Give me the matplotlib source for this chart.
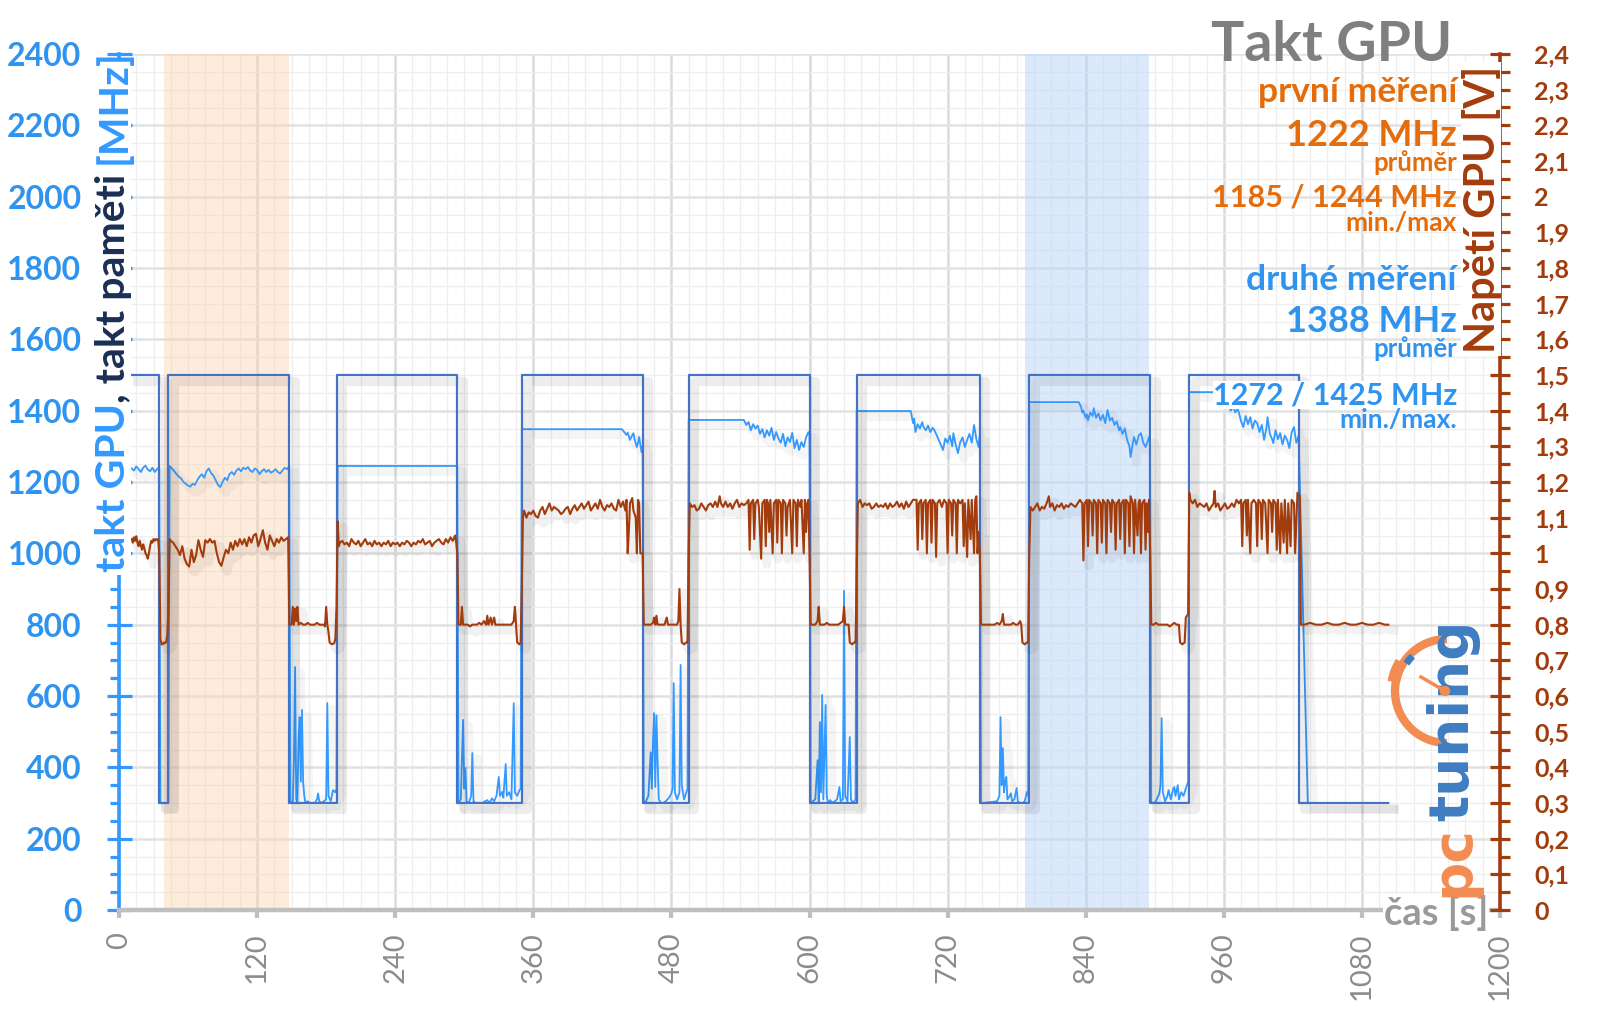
import matplotlib
matplotlib.use('Agg')
import matplotlib.pyplot as plt
import matplotlib.patheffects as pe
from matplotlib.patches import Arc, Ellipse, Rectangle
from matplotlib.lines import Line2D
from matplotlib.ticker import FixedLocator, MultipleLocator, FuncFormatter

plt.rcParams['font.family'] = ['Lato', 'DejaVu Sans']

W, H = 1600, 1009

# ---------------- data (time [s], value) ----------------
X_TICKS = [0, 120, 240, 360, 480, 600, 720, 840, 960, 1080, 1200]
Y_TICKS_MHZ = [0, 200, 400, 600, 800, 1000, 1200, 1400, 1600, 1800, 2000, 2200, 2400]
Y_TICKS_V = [0, 0.1, 0.2, 0.3, 0.4, 0.5, 0.6, 0.7, 0.8, 0.9, 1.0, 1.1, 1.2,
             1.3, 1.4, 1.5, 1.6, 1.7, 1.8, 1.9, 2.0, 2.1, 2.2, 2.3, 2.4]

ORANGE_SPAN = (39, 148)
BLUE_SPAN = (787, 895)

MEM_CLOCK = [(11, 1500), (35, 1500), (35, 300), (43, 300), (43, 1500), (148, 1500), (148, 300),
             (189, 300), (189, 1500), (294, 1500), (294, 300), (350, 300), (350, 1500),
             (455, 1500), (455, 300), (495, 300), (495, 1500), (600, 1500), (600, 300),
             (641, 300), (641, 1500), (748, 1500), (748, 300), (791, 300), (791, 1500),
             (896, 1500), (896, 300), (930, 300), (930, 1500), (1025, 1500), (1025, 300),
             (1103, 300)]

GPU_CLOCK = [
    (11, 1238), (13, 1232), (15, 1244), (17, 1236), (19, 1228), (21, 1240), (23, 1246), (25, 1235),
    (27, 1230), (29, 1240), (31, 1228), (33, 1236), (35, 1242), (36, 300), (43, 300),
    (44, 1245), (46, 1238), (48, 1230), (50, 1222), (52, 1215), (54, 1210), (56, 1200), (58, 1195),
    (60, 1190), (62, 1187), (64, 1195), (66, 1192), (68, 1205), (70, 1215), (72, 1222), (74, 1212),
    (76, 1230), (78, 1238), (80, 1225), (82, 1218), (84, 1205), (86, 1192), (88, 1186), (90, 1200),
    (92, 1212), (94, 1205), (96, 1222), (98, 1228), (100, 1220), (102, 1232), (104, 1238),
    (106, 1230), (108, 1240), (110, 1236), (112, 1242), (114, 1232), (116, 1228), (118, 1238),
    (120, 1234), (122, 1222), (124, 1230), (126, 1236), (128, 1228), (130, 1234), (132, 1226),
    (134, 1230), (136, 1236), (138, 1228), (140, 1224), (142, 1232), (144, 1240), (146, 1236),
    (148, 1244), (149, 300),
    (151, 305), (152, 420), (153, 681), (154, 310), (155, 300), (156, 480), (157, 541), (158, 360),
    (159, 561), (160, 359), (161, 320), (162, 300), (164, 305), (166, 300), (168, 300), (170, 300),
    (172, 310), (173, 327), (174, 305), (176, 300), (178, 305), (180, 310), (181, 580), (182, 320),
    (184, 305), (186, 336), (188, 330), (189, 340),
    (190, 1245), (294, 1245), (295, 300),
    (297, 310), (299, 533), (300, 340), (301, 398), (302, 305), (304, 300), (306, 320), (307, 440),
    (308, 305), (310, 300), (312, 300), (314, 300), (316, 300), (318, 305), (320, 308), (322, 300),
    (324, 313), (326, 305), (328, 320), (330, 373), (331, 320), (333, 331), (334, 315), (336, 409),
    (337, 320), (339, 330), (341, 310), (343, 580), (344, 330), (346, 320), (348, 336), (349, 340),
    (350, 1348), (437, 1348), (439, 1340), (441, 1332), (442, 1338), (444, 1318), (445, 1325),
    (447, 1337), (448, 1320), (450, 1298), (451, 1310), (452, 1326), (453, 1305), (454, 1284),
    (455, 1300), (456, 300),
    (458, 305), (460, 320), (461, 380), (462, 442), (463, 340), (464, 470), (465, 552), (466, 345),
    (467, 546), (468, 420), (469, 310), (471, 300), (473, 300), (475, 305), (476, 308), (478, 315),
    (480, 327), (481, 340), (482, 636), (483, 330), (485, 310), (487, 330), (488, 687), (489, 350),
    (491, 310), (493, 330), (494, 340),
    (495, 1374), (543, 1374), (545, 1360), (547, 1368), (549, 1345), (551, 1362), (553, 1350),
    (555, 1358), (557, 1335), (559, 1348), (561, 1325), (563, 1345), (565, 1330), (567, 1352),
    (569, 1318), (571, 1340), (573, 1322), (575, 1310), (577, 1335), (579, 1300), (581, 1325),
    (583, 1312), (585, 1338), (587, 1295), (589, 1318), (591, 1290), (593, 1312), (595, 1298),
    (597, 1325), (599, 1340), (600, 1330), (601, 300),
    (603, 305), (605, 310), (607, 420), (608, 300), (609, 527), (610, 330), (611, 603), (612, 310),
    (614, 575), (615, 320), (616, 300), (618, 308), (620, 300), (622, 305), (624, 310), (626, 345),
    (627, 305), (629, 310), (630, 895), (631, 320), (633, 305), (635, 485), (636, 310), (638, 300),
    (640, 310),
    (641, 1399), (688, 1399), (690, 1365), (691, 1378), (692, 1340), (694, 1362), (696, 1350),
    (698, 1368), (699, 1355), (701, 1345), (703, 1358), (705, 1340), (707, 1352), (708, 1348),
    (710, 1335), (712, 1320), (714, 1305), (716, 1290), (718, 1322), (720, 1310), (722, 1330),
    (724, 1300), (725, 1337), (727, 1305), (729, 1281), (731, 1312), (733, 1325), (735, 1298),
    (737, 1318), (739, 1335), (741, 1310), (743, 1360), (745, 1320), (747, 1298), (748, 1330),
    (749, 300),
    (751, 300), (763, 305), (765, 320), (766, 541), (767, 350), (768, 454), (769, 330), (770, 360),
    (771, 373), (772, 310), (774, 320), (775, 327), (776, 305), (778, 310), (780, 342), (781, 305),
    (783, 300), (785, 300), (787, 305), (789, 331), (790, 320),
    (791, 1424), (834, 1424), (836, 1410), (837, 1395), (838, 1400), (840, 1380), (841, 1390),
    (842, 1373), (844, 1395), (846, 1385), (847, 1407), (849, 1380), (851, 1392), (853, 1373),
    (855, 1388), (857, 1365), (859, 1402), (861, 1372), (863, 1380), (865, 1360), (867, 1370),
    (869, 1345), (870, 1354), (872, 1335), (874, 1350), (876, 1318), (878, 1300), (879, 1270),
    (881, 1310), (882, 1326), (884, 1305), (886, 1330), (888, 1337), (890, 1310), (892, 1298),
    (894, 1315), (895, 1326), (896, 1310), (897, 300),
    (899, 300), (901, 305), (903, 320), (904, 327), (905, 350), (906, 538), (907, 330), (909, 305),
    (911, 320), (912, 336), (914, 310), (916, 340), (917, 345), (918, 320), (920, 350), (921, 310),
    (923, 330), (925, 320), (927, 340), (929, 360),
    (930, 1452), (958, 1452), (960, 1430), (962, 1410), (964, 1420), (966, 1400), (968, 1412),
    (970, 1395), (972, 1405), (973, 1396), (975, 1370), (977, 1354), (979, 1385), (981, 1362),
    (983, 1382), (985, 1350), (987, 1372), (989, 1365), (991, 1340), (993, 1360), (995, 1318),
    (997, 1350), (998, 1382), (1000, 1335), (1002, 1320), (1003, 1309), (1005, 1345), (1007, 1320),
    (1009, 1337), (1011, 1305), (1013, 1330), (1015, 1318), (1017, 1295), (1019, 1340),
    (1021, 1354), (1023, 1310), (1025, 1330), (1033, 300), (1103, 300)]

GPU_VOLT = [
    (11, 1.04), (12, 1.03), (13, 1.045), (14, 1.035), (15, 1.048), (16, 1.03), (17, 1.02), (18, 1.035),
    (19, 1.022), (20, 1.01), (21, 1.025), (22, 1.015), (23, 1.0), (24, 0.995), (25, 0.985), (26, 1.0),
    (27, 1.02), (28, 1.035), (29, 1.03), (30, 1.04), (31, 1.035), (32, 1.04), (33, 1.038), (34, 1.04),
    (35, 1.0), (36, 0.76), (37, 0.745), (38, 0.745), (39, 0.75), (40, 0.748), (41, 0.752), (42, 0.77),
    (43, 0.85), (44, 1.04),
    (45, 1.035), (47, 1.03), (49, 1.02), (51, 1.01), (53, 0.995), (55, 1.02), (57, 0.985), (59, 0.97),
    (61, 0.963), (63, 1.01), (65, 0.975), (67, 0.995), (69, 1.037), (71, 1.01), (73, 0.99), (75, 1.037),
    (77, 1.03), (79, 1.04), (81, 1.03), (83, 1.035), (85, 1.0), (87, 0.975), (89, 0.965), (91, 0.99),
    (93, 1.01), (95, 1.0), (97, 1.03), (99, 1.01), (101, 1.035), (103, 1.02), (105, 1.04), (107, 1.025),
    (109, 1.04), (111, 1.02), (113, 1.045), (115, 1.03), (117, 1.05), (119, 1.055), (121, 1.02),
    (123, 1.04), (125, 1.065), (127, 1.03), (129, 1.01), (131, 1.05), (133, 1.035), (135, 1.02),
    (137, 1.04), (139, 1.03), (141, 1.045), (143, 1.035), (145, 1.04), (147, 1.045),
    (148, 0.80), (150, 0.80), (151, 0.85), (152, 0.80), (153, 0.845), (154, 0.81), (155, 0.85),
    (156, 0.80), (158, 0.805), (160, 0.80), (162, 0.80), (164, 0.805), (166, 0.80), (168, 0.80),
    (170, 0.80), (172, 0.805), (174, 0.80), (176, 0.80), (178, 0.80), (179, 0.795), (180, 0.85),
    (181, 0.80), (182, 0.78), (183, 0.75), (185, 0.745), (187, 0.748), (188, 0.76), (189, 0.85),
    (190, 1.09), (191, 1.02),
    (192, 1.03), (194, 1.035), (196, 1.025), (198, 1.03), (200, 1.02), (202, 1.04), (204, 1.03),
    (206, 1.025), (208, 1.035), (210, 1.02), (212, 1.03), (214, 1.04), (216, 1.025), (218, 1.03),
    (220, 1.02), (222, 1.035), (224, 1.025), (226, 1.03), (228, 1.02), (230, 1.03), (232, 1.025),
    (234, 1.035), (236, 1.02), (238, 1.03), (240, 1.025), (242, 1.03), (244, 1.02), (246, 1.03),
    (248, 1.025), (250, 1.035), (252, 1.03), (254, 1.02), (256, 1.03), (258, 1.025), (260, 1.035),
    (262, 1.03), (264, 1.04), (266, 1.025), (268, 1.03), (270, 1.035), (272, 1.02), (274, 1.03),
    (276, 1.035), (278, 1.04), (280, 1.03), (282, 1.025), (284, 1.04), (286, 1.03), (288, 1.045),
    (290, 1.035), (292, 1.05), (293, 1.03), (294, 1.0),
    (295, 0.80), (297, 0.80), (298, 0.85), (299, 0.80), (301, 0.80), (303, 0.80), (305, 0.795),
    (307, 0.80), (309, 0.80), (311, 0.80), (313, 0.805), (315, 0.80), (317, 0.81), (319, 0.80),
    (320, 0.825), (321, 0.80), (323, 0.82), (324, 0.80), (326, 0.82), (327, 0.80), (329, 0.80),
    (331, 0.80), (333, 0.80), (335, 0.80), (337, 0.80), (339, 0.80), (341, 0.80), (343, 0.81),
    (344, 0.85), (345, 0.80), (346, 0.75), (348, 0.745), (349, 0.75), (350, 0.90), (351, 1.10),
    (352, 1.12), (354, 1.10), (356, 1.115), (358, 1.11), (360, 1.12), (362, 1.105), (364, 1.10),
    (366, 1.12), (368, 1.13), (370, 1.11), (372, 1.125), (374, 1.14), (376, 1.12), (378, 1.13),
    (380, 1.125), (382, 1.12), (384, 1.11), (386, 1.115), (388, 1.125), (390, 1.13), (392, 1.11),
    (394, 1.125), (396, 1.135), (398, 1.12), (400, 1.13), (402, 1.14), (404, 1.125), (406, 1.135),
    (408, 1.145), (410, 1.12), (412, 1.13), (414, 1.14), (416, 1.125), (418, 1.15), (420, 1.13),
    (422, 1.12), (424, 1.135), (426, 1.13), (428, 1.14), (430, 1.125), (432, 1.12), (434, 1.15),
    (436, 1.13), (438, 1.145), (440, 1.12), (441, 1.15), (442, 1.0), (443, 1.06), (444, 1.14),
    (446, 1.155), (447, 1.12), (449, 1.10), (450, 1.0), (451, 1.15), (452, 1.14), (453, 1.0),
    (455, 1.0),
    (456, 0.80), (458, 0.80), (460, 0.80), (462, 0.80), (464, 0.805), (465, 0.82), (466, 0.80),
    (467, 0.825), (468, 0.80), (470, 0.80), (472, 0.80), (474, 0.80), (476, 0.82), (477, 0.80),
    (479, 0.80), (481, 0.80), (483, 0.80), (485, 0.80), (486, 0.81), (487, 0.90), (488, 0.80),
    (489, 0.75), (491, 0.745), (493, 0.75), (494, 0.75), (495, 1.0),
    (496, 1.14), (498, 1.13), (500, 1.135), (502, 1.12), (504, 1.125), (506, 1.14), (508, 1.13),
    (510, 1.12), (512, 1.135), (514, 1.14), (516, 1.13), (518, 1.145), (520, 1.13), (522, 1.16),
    (523, 1.14), (525, 1.13), (527, 1.145), (529, 1.13), (531, 1.14), (533, 1.125), (535, 1.14),
    (537, 1.15), (539, 1.13), (541, 1.14), (543, 1.135), (545, 1.14),
    (547, 1.15), (548, 1.01), (549, 1.14), (551, 1.15), (552, 1.04), (553, 1.14), (555, 1.15),
    (556, 1.13), (558, 0.985), (559, 1.14), (561, 1.15), (562, 1.02), (563, 1.15), (564, 1.14),
    (565, 1.06), (566, 1.15), (568, 1.0), (569, 1.14), (571, 1.15), (572, 1.03), (573, 1.15),
    (575, 1.14), (576, 1.0), (577, 1.15), (579, 1.14), (580, 1.05), (581, 1.13), (583, 1.15),
    (585, 1.0), (586, 1.15), (588, 1.14), (589, 1.02), (590, 1.15), (592, 1.13), (593, 1.15),
    (595, 1.0), (596, 1.15), (597, 1.06), (598, 1.14), (599, 1.15), (600, 1.0),
    (601, 0.80), (603, 0.80), (605, 0.80), (607, 0.81), (608, 0.85), (609, 0.80), (611, 0.80),
    (613, 0.80), (615, 0.805), (617, 0.80), (619, 0.80), (621, 0.80), (623, 0.80), (625, 0.80),
    (627, 0.805), (629, 0.81), (630, 0.85), (631, 0.80), (633, 0.80), (634, 0.80), (635, 0.75),
    (637, 0.745), (639, 0.75), (640, 0.75), (641, 0.95),
    (642, 1.14), (644, 1.15), (646, 1.13), (648, 1.14), (650, 1.135), (652, 1.14), (654, 1.125),
    (656, 1.13), (658, 1.14), (660, 1.13), (662, 1.135), (664, 1.13), (666, 1.14), (668, 1.125),
    (670, 1.14), (672, 1.13), (674, 1.135), (676, 1.145), (678, 1.13), (680, 1.14), (682, 1.125),
    (684, 1.145), (686, 1.13), (688, 1.14), (690, 1.15),
    (693, 1.15), (694, 1.01), (695, 1.14), (697, 1.15), (698, 1.04), (699, 1.14), (701, 1.15),
    (702, 1.0), (703, 1.14), (705, 1.15), (706, 1.03), (707, 1.15), (709, 1.14), (710, 0.99),
    (711, 1.14), (713, 1.15), (715, 1.13), (717, 1.15), (719, 1.14), (720, 1.0), (721, 1.15),
    (723, 1.14), (724, 1.05), (725, 1.15), (727, 1.14), (728, 1.0), (729, 1.15),
    (731, 1.14), (733, 1.15), (734, 1.02), (735, 1.14), (737, 0.99), (738, 1.15), (740, 1.04),
    (741, 1.15), (743, 1.0), (744, 1.15), (745, 1.16), (746, 1.0), (747, 1.06), (748, 1.0),
    (749, 0.80), (751, 0.80), (753, 0.80), (755, 0.80), (757, 0.80), (759, 0.80), (761, 0.80),
    (763, 0.805), (765, 0.80), (767, 0.81), (768, 0.83), (769, 0.80), (771, 0.80), (773, 0.80),
    (775, 0.80), (777, 0.805), (779, 0.80), (781, 0.80), (783, 0.81), (784, 0.80), (785, 0.75),
    (787, 0.745), (789, 0.75), (790, 0.75), (791, 1.0),
    (792, 1.13), (794, 1.12), (796, 1.13), (798, 1.14), (800, 1.12), (802, 1.13), (804, 1.125),
    (806, 1.14), (808, 1.16), (809, 1.13), (811, 1.14), (813, 1.12), (815, 1.135), (817, 1.13),
    (819, 1.14), (821, 1.125), (823, 1.135), (825, 1.13), (827, 1.14), (829, 1.135), (831, 1.13),
    (833, 1.14), (835, 1.15), (837, 1.14), (838, 0.98), (839, 1.14), (841, 1.15), (842, 1.02),
    (843, 1.15), (845, 1.14), (846, 1.05), (847, 1.15), (849, 1.14), (850, 1.0), (851, 1.15),
    (853, 1.14), (854, 1.03), (855, 1.15), (857, 1.14), (858, 1.0), (859, 1.15),
    (861, 1.14), (862, 1.06), (863, 1.15), (865, 1.14), (866, 1.01), (867, 1.14), (869, 1.15),
    (870, 1.04), (871, 1.14), (873, 1.15), (874, 1.0), (875, 1.15), (877, 1.14), (878, 1.02),
    (879, 1.16), (881, 1.14), (882, 1.0), (883, 1.15), (885, 1.05), (886, 1.14), (887, 1.15),
    (888, 1.0), (889, 1.14), (891, 1.15), (892, 1.01), (893, 1.14), (894, 1.06), (895, 1.15),
    (896, 1.0),
    (897, 0.80), (899, 0.80), (901, 0.805), (903, 0.80), (905, 0.80), (907, 0.80), (909, 0.80),
    (911, 0.80), (913, 0.795), (915, 0.80), (917, 0.805), (919, 0.80), (921, 0.80), (922, 0.75),
    (924, 0.745), (926, 0.75), (927, 0.82), (929, 0.83), (930, 1.17),
    (931, 1.15), (933, 1.14), (935, 1.15), (937, 1.13), (939, 1.14), (941, 1.135), (943, 1.13),
    (945, 1.14), (947, 1.12), (949, 1.13), (951, 1.14), (952, 1.175), (953, 1.13), (955, 1.14),
    (957, 1.12), (959, 1.13), (961, 1.14), (963, 1.125), (965, 1.13), (967, 1.14), (969, 1.13),
    (971, 1.15), (973, 1.14), (975, 1.15), (976, 1.02), (977, 1.14), (979, 1.15), (980, 1.05),
    (981, 1.15), (983, 1.0), (984, 1.14), (986, 1.15), (988, 1.14), (989, 1.02), (990, 1.15),
    (992, 1.14), (993, 1.04), (994, 1.15), (996, 1.14), (998, 1.0), (999, 1.15), (1001, 1.14),
    (1002, 1.06), (1003, 1.15), (1005, 1.14), (1006, 1.01), (1007, 1.15), (1009, 1.0), (1010, 1.14),
    (1012, 1.03), (1013, 1.15), (1015, 1.0), (1016, 1.14), (1018, 1.02), (1019, 1.15), (1021, 1.14),
    (1022, 1.0), (1024, 1.17), (1026, 1.16), (1027, 0.80),
    (1030, 0.80), (1035, 0.805), (1040, 0.80), (1045, 0.80), (1050, 0.805), (1055, 0.80),
    (1060, 0.80), (1065, 0.805), (1070, 0.80), (1075, 0.80), (1080, 0.805), (1085, 0.80),
    (1090, 0.80), (1095, 0.805), (1100, 0.80), (1103, 0.80)]

# ---------------- styling ----------------
C_BLUE = '#3399FF'
C_BLUE_TXT = '#2F93F0'
C_MEM = '#4472C4'
C_NAVY = '#1B2F55'
C_VOLT = '#A33C0C'
C_ORANGE = '#E46C0A'
C_GRAY = '#7F7F7F'
C_AXGRAY = '#BFBFBF'

fig = plt.figure(figsize=(W / 100, H / 100), dpi=100)
ax = fig.add_axes([119 / W, 1 - 910 / H, (1500 - 119) / W, (910 - 54) / H])
ax.set_xlim(0, 1200)
ax.set_ylim(0, 2400)

ax.xaxis.set_major_locator(FixedLocator(X_TICKS))
ax.xaxis.set_minor_locator(MultipleLocator(15))
ax.yaxis.set_major_locator(FixedLocator(Y_TICKS_MHZ))
ax.yaxis.set_minor_locator(MultipleLocator(50))
ax.set_axisbelow(True)
ax.grid(which='minor', color='#EEEEEE', lw=0.9)
ax.grid(which='major', axis='x', color='#D8DBE2', lw=1.8)
ax.grid(which='major', axis='y', color='#E2E2E2', lw=1.8)

for s in ['top', 'right']:
    ax.spines[s].set_visible(False)
ax.spines['bottom'].set_color(C_AXGRAY)
ax.spines['bottom'].set_linewidth(3.2)
ax.spines['left'].set_color(C_BLUE)
ax.spines['left'].set_linewidth(2.6)

ax.tick_params(axis='x', which='major', direction='out', length=6, width=3, color=C_AXGRAY,
               labelsize=21, labelcolor='#8C8C8C', labelrotation=90, pad=10)
ax.tick_params(axis='x', which='minor', length=0)
ax.tick_params(axis='y', which='major', direction='inout', length=18, width=2.3, color=C_BLUE,
               labelsize=23, labelcolor=C_BLUE_TXT, pad=18)
ax.tick_params(axis='y', which='minor', direction='out', length=6.5, width=2.3, color=C_BLUE)
for lab in ax.get_yticklabels():
    lab.set_fontweight('bold')

ax.axvspan(*ORANGE_SPAN, color='#FBD3B0', alpha=0.45, lw=0, zorder=1)
ax.axvspan(*BLUE_SPAN, color='#B8D5F8', alpha=0.5, lw=0, zorder=1)

def shadow(lw, a):
    return [pe.SimpleLineShadow(offset=(4, -4), shadow_color='k', alpha=a, linewidth=lw + 5),
            pe.Normal()]

gx = [p[0] for p in GPU_CLOCK]
gy = [p[1] for p in GPU_CLOCK]
ax.plot(gx, gy, color=C_BLUE, lw=1.3, zorder=3, path_effects=shadow(1.3, 0.04))

mx = [p[0] for p in MEM_CLOCK]
my = [p[1] for p in MEM_CLOCK]
ax.plot(mx, my, color=C_MEM, lw=1.6, zorder=4, path_effects=shadow(1.6, 0.07))

ax2 = ax.twinx()
ax2.set_ylim(0, 2.4)
ax2.patch.set_visible(False)
for s in ['top', 'left', 'bottom']:
    ax2.spines[s].set_visible(False)
ax2.spines['right'].set_color(C_VOLT)
ax2.spines['right'].set_linewidth(2.6)
ax2.yaxis.set_major_locator(FixedLocator(Y_TICKS_V))
ax2.yaxis.set_minor_locator(MultipleLocator(0.05))
ax2.yaxis.set_major_formatter(FuncFormatter(lambda v, p: ('%g' % round(v, 2)).replace('.', ',')))
ax2.tick_params(axis='y', which='major', direction='inout', length=15, width=2.3, color=C_VOLT,
                labelsize=18, labelcolor=C_VOLT, pad=17)
ax2.tick_params(axis='y', which='minor', direction='out', length=7, width=2.3, color=C_VOLT)
for lab in ax2.get_yticklabels():
    lab.set_fontweight('bold')

vx = [p[0] for p in GPU_VOLT]
vy = [p[1] for p in GPU_VOLT]
ax2.plot(vx, vy, color=C_VOLT, lw=1.5, zorder=3, path_effects=shadow(1.5, 0.05))

# ---------------- texts ----------------
def fx(px):
    return px / W

def fy(py):
    return 1 - py / H

fig.text(fx(1452), fy(45), 'Takt GPU', ha='right', va='center', fontsize=40,
         fontweight='bold', color=C_GRAY)

notes = [
    ('první měření', 92, 25.5, C_ORANGE, False),
    ('1222 MHz', 135, 26, C_ORANGE, False),
    ('průměr', 163, 18.5, C_ORANGE, False),
    ('1185 / 1244 MHz', 198, 22, C_ORANGE, False),
    ('min./max', 223, 19, C_ORANGE, False),
    ('druhé měření', 280, 25.5, C_BLUE_TXT, False),
    ('1388 MHz', 321, 26, C_BLUE_TXT, False),
    ('průměr', 349, 18.5, C_BLUE_TXT, False),
    ('1272 / 1425 MHz', 395, 22, C_BLUE_TXT, True),
    ('min./max.', 420, 19, C_BLUE_TXT, False),
]
for txt, py, fs, col, box in notes:
    kw = dict(ha='right', va='center', fontsize=fs, fontweight='bold', color=col, zorder=5)
    if box:
        kw['bbox'] = dict(facecolor='white', edgecolor='none', pad=0)
    fig.text(fx(1457), fy(py), txt, **kw)

renderer = fig.canvas.get_renderer()

def width_of(s, **kw):
    t = fig.text(0, 0, s, **kw)
    w = t.get_window_extent(renderer).width
    t.remove()
    return w

# left axis title with three colours
fig.add_artist(Rectangle((fx(96), fy(575)), (131 - 96) / W, (575 - 60) / H,
                         transform=fig.transFigure, facecolor='white', edgecolor='none', zorder=2))
lkw = dict(fontsize=29.5, fontweight='bold')
full = 'takt GPU, takt paměti [MHz]'
wf = width_of(full, **lkw)
parts = [('takt GPU', C_BLUE, 0.0),
         (', takt paměti', C_NAVY, wf - width_of(', takt paměti [MHz]', **lkw)),
         ('[MHz]', C_BLUE, wf - width_of('[MHz]', **lkw))]
base_y = H - 572
for s, col, off in parts:
    fig.text(fx(114), (base_y + off) / H, s, rotation=90, rotation_mode='anchor',
             ha='left', va='center', color=col, zorder=3, **lkw)

# right axis title
fig.add_artist(Rectangle((fx(1461), fy(356)), (1501 - 1461) / W, (356 - 62) / H,
                         transform=fig.transFigure, facecolor='white', edgecolor='none', zorder=2))
fig.text(fx(1482), fy(209), 'Napětí GPU [V]', rotation=90, ha='center', va='center',
         fontsize=30, fontweight='bold', color=C_VOLT, zorder=3)

# x axis title
fig.text(fx(1488), fy(913), 'čas [s]', ha='right', va='center', fontsize=27.5,
         fontweight='bold', color='#9A9A9A', zorder=3,
         bbox=dict(facecolor='white', edgecolor='none', pad=0.5))

# ---------------- pctuning logo ----------------
L_OR = '#F28C52'
L_BL = '#3F7DC1'
LOGO_FS = 39.5
logo_kw = dict(rotation=90, rotation_mode='anchor', ha='left', va='baseline',
               fontsize=LOGO_FS, fontweight='bold', family='DejaVu Sans', zorder=3)
pc_start = H - 897
fig.text(fx(1468), pc_start / H, 'pc', color=L_OR, **logo_kw)
pc_w = width_of('pc', fontsize=LOGO_FS, fontweight='bold', family='DejaVu Sans')
fig.text(fx(1468), (pc_start + pc_w + 4) / H, 'tuning', color=L_BL, **logo_kw)

cx, cy, r = 1447, 691, 52
fig.add_artist(Arc((fx(cx), fy(cy)), 2 * r / W, 2 * r / H, theta1=90, theta2=270,
                   transform=fig.transFigure, color=L_OR, lw=6, zorder=3))
fig.add_artist(Arc((fx(cx), fy(cy)), 2 * (r + 2) / W, 2 * (r + 2) / H, theta1=135, theta2=165,
                   transform=fig.transFigure, color=L_OR, lw=9, zorder=3))
fig.add_artist(Arc((fx(cx), fy(cy)), 2 * (r - 3) / W, 2 * (r - 3) / H, theta1=122, theta2=133,
                   transform=fig.transFigure, color=L_BL, lw=5, zorder=4))
fig.add_artist(Line2D([fx(1445), fx(1421)], [fy(691), fy(677)], transform=fig.transFigure,
                      color=L_OR, lw=2.5, zorder=4))
fig.add_artist(Ellipse((fx(1445), fy(691)), 9 / W, 9 / H, transform=fig.transFigure,
                       color=L_OR, zorder=4))

fig.savefig('out.png', dpi=100)
